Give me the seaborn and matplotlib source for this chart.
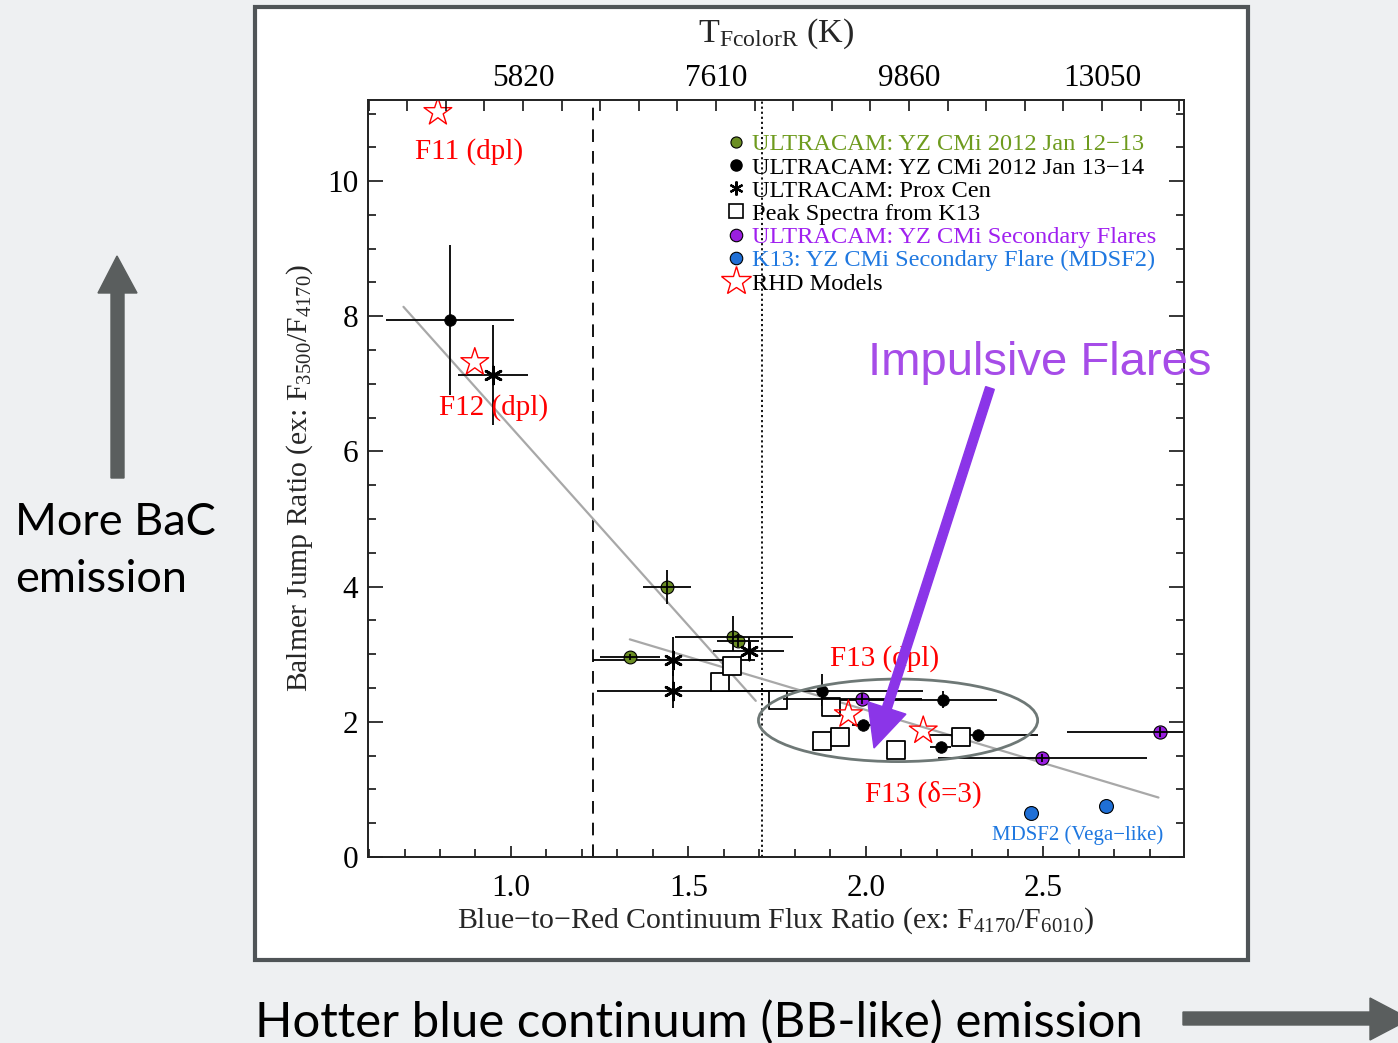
import numpy as np
import pandas as pd
import matplotlib
matplotlib.use("Agg")
import matplotlib.pyplot as plt
import seaborn as sns
from matplotlib.patches import Ellipse, Rectangle, Polygon, FancyArrow
from matplotlib.lines import Line2D
from matplotlib.transforms import IdentityTransform
from matplotlib.ticker import MultipleLocator, FixedLocator

# ---------------- data ----------------
# ULTRACAM: YZ CMi 2012 Jan 12-13 (green)
green_x = [1.439, 1.335, 1.625, 1.640]
green_y = [3.99, 2.96, 3.25, 3.20]
green_xlo = [1.372, 1.251, 1.462, 1.580]
green_xhi = [1.507, 1.420, 1.795, 1.700]
green_ylo = [3.75, 2.92, 3.05, 3.10]
green_yhi = [4.24, 3.00, 3.57, 3.30]

# ULTRACAM: YZ CMi 2012 Jan 13-14 (black)
black_x = [0.828, 1.877, 2.217, 1.993, 2.211, 2.315]
black_y = [7.94, 2.46, 2.33, 1.95, 1.63, 1.81]
black_xlo = [0.648, 1.560, 1.880, 1.960, 2.180, 2.181]
black_xhi = [1.008, 2.160, 2.370, 2.030, 2.240, 2.486]
black_ylo = [6.83, 2.24, 2.21, 1.88, 1.56, 1.76]
black_yhi = [9.05, 2.71, 2.45, 2.03, 1.70, 1.86]

# ULTRACAM: Prox Cen (asterisks)
prox_x = [0.949, 1.458, 1.458, 1.671]
prox_y = [7.13, 2.91, 2.46, 3.05]
prox_xlo = [0.850, 1.231, 1.242, 1.570]
prox_xhi = [1.047, 1.688, 1.750, 1.770]
prox_ylo = [6.39, 2.68, 2.20, 2.95]
prox_yhi = [7.87, 3.25, 2.75, 3.25]

# Peak spectra from K13 (open squares)
k13_x = [1.588, 1.624, 1.752, 1.901, 1.876, 1.926, 2.085, 2.268]
k13_y = [2.59, 2.82, 2.33, 2.22, 1.72, 1.78, 1.59, 1.78]

# ULTRACAM: YZ CMi secondary flares (purple)
sec_x = [1.989, 2.497, 2.828]
sec_y = [2.34, 1.46, 1.855]
sec_xlo = [1.767, 2.204, 2.567]
sec_xhi = [2.159, 2.792, 2.950]
sec_ylo = [2.26, 1.40, 1.78]
sec_yhi = [2.42, 1.52, 1.93]

# K13: YZ CMi secondary flare (MDSF2)
mdsf_x = [2.466, 2.677]
mdsf_y = [0.656, 0.755]

# RHD models (open red stars)
rhd_x = [0.794, 0.898, 1.951, 2.162]
rhd_y = [11.02, 7.32, 2.11, 1.87]
rhd_labels = ["F11 (dpl)", "F12 (dpl)", "F13 (dpl)", "F13 (δ=3)"]
rhd_label_x = [0.882, 0.952, 2.052, 2.162]
rhd_label_y = [10.44, 6.65, 2.93, 0.92]

# grey trend lines
fitA_x = [0.697, 1.690]
fitA_y = [8.14, 2.31]
fitB_x = [1.335, 2.825]
fitB_y = [3.22, 0.88]

# vertical reference lines
vline_dashed = 1.231
vline_dotted = 1.708

# impulsive-flare ellipse (center x, center y, width, height)
ell_cx, ell_cy, ell_w, ell_h = 2.091, 2.022, 0.787, 1.221

# axes ticks
x_major = [1.0, 1.5, 2.0, 2.5]
x_major_labels = ["1.0", "1.5", "2.0", "2.5"]
y_major = [0, 2, 4, 6, 8, 10]
y_major_labels = ["0", "2", "4", "6", "8", "10"]
top_pos = [1.034, 1.578, 2.122, 2.666]
top_labels = ["5820", "7610", "9860", "13050"]

legend_labels = [
    "ULTRACAM: YZ CMi 2012 Jan 12\u221213",
    "ULTRACAM: YZ CMi 2012 Jan 13\u221214",
    "ULTRACAM: Prox Cen",
    "Peak Spectra from K13",
    "ULTRACAM: YZ CMi Secondary Flares",
    "K13: YZ CMi Secondary Flare (MDSF2)",
    "RHD Models",
]

# ---------------- style ----------------
sns.set_theme(style="ticks")
plt.rcParams["font.family"] = ["Liberation Serif", "DejaVu Serif"]
plt.rcParams["mathtext.fontset"] = "custom"
plt.rcParams["mathtext.rm"] = "Liberation Serif"
plt.rcParams["mathtext.it"] = "Liberation Serif:italic"
plt.rcParams["mathtext.bf"] = "Liberation Serif:bold"

GREEN = "#6b8e23"
PURPLE = "#9a1fe0"
BLUE = "#1f6fd6"
GREEN_T = "#6e9b1e"
PURPLE_T = "#a020f0"
BLUE_T = "#1f78e0"

W, H = 1398, 1043
fig = plt.figure(figsize=(W / 100, H / 100), dpi=100, facecolor="#eef0f2")


def fx(px):
    return px / W


def fy(py):
    return 1 - py / H


panel = Rectangle((fx(255), fy(960)), fx(1248) - fx(255), fy(7) - fy(960),
                  transform=fig.transFigure, facecolor="white",
                  edgecolor="#4f5457", lw=3, zorder=-1)
fig.patches.append(panel)

ax = fig.add_axes([fx(368), fy(857), fx(1184) - fx(368), fy(100) - fy(857)])
ax.set_facecolor("white")


def errbars(x, y, xlo, xhi, ylo, yhi, z):
    x = np.asarray(x); y = np.asarray(y)
    ax.errorbar(x, y, xerr=[x - np.asarray(xlo), np.asarray(xhi) - x],
                yerr=[y - np.asarray(ylo), np.asarray(yhi) - y],
                fmt="none", ecolor="black", elinewidth=1.3, capsize=0, zorder=z)


# trend lines
ax.plot(fitA_x, fitA_y, color="#a8a8a8", lw=1.6, zorder=2)
ax.plot(fitB_x, fitB_y, color="#a8a8a8", lw=1.6, zorder=2)

# reference lines
ax.axvline(vline_dashed, color="black", lw=1.3, ls=(0, (7, 5)), zorder=1)
ax.axvline(vline_dotted, color="black", lw=1.3, ls=(0, (1.2, 1.6)), zorder=1)

# error bars
errbars(black_x, black_y, black_xlo, black_xhi, black_ylo, black_yhi, 3)
errbars(prox_x, prox_y, prox_xlo, prox_xhi, prox_ylo, prox_yhi, 3)
errbars(green_x, green_y, green_xlo, green_xhi, green_ylo, green_yhi, 6)
errbars(sec_x, sec_y, sec_xlo, sec_xhi, sec_ylo, sec_yhi, 6)

# points
sns.scatterplot(x=k13_x, y=k13_y, ax=ax, marker="s", s=150, facecolor="white",
                edgecolor="black", linewidth=1.3, zorder=4, legend=False)
sns.scatterplot(x=black_x, y=black_y, ax=ax, marker="o", s=70, color="black",
                edgecolor="black", linewidth=0.5, zorder=5, legend=False)
sns.scatterplot(x=green_x, y=green_y, ax=ax, marker="o", s=85, color=GREEN,
                edgecolor="black", linewidth=0.8, zorder=5, legend=False)
sns.scatterplot(x=sec_x, y=sec_y, ax=ax, marker="o", s=90, color=PURPLE,
                edgecolor="black", linewidth=0.8, zorder=5, legend=False)
sns.scatterplot(x=mdsf_x, y=mdsf_y, ax=ax, marker="o", s=100, color=BLUE,
                edgecolor="black", linewidth=0.8, zorder=5, legend=False)
ax.scatter(prox_x, prox_y, marker=(6, 2, 0), s=150, color="black",
           linewidths=2.0, zorder=5)
sns.scatterplot(x=rhd_x, y=rhd_y, ax=ax, marker="*", s=440, facecolor="none",
                edgecolor="red", linewidth=1.0, zorder=7, legend=False)

for lx, ly, lt in zip(rhd_label_x, rhd_label_y, rhd_labels):
    ax.text(lx, ly, lt, color="red", fontsize=21, ha="center", va="center", zorder=8)

ax.text(2.597, 0.33, "MDSF2 (Vega\u2212like)", color=BLUE_T, fontsize=15,
        ha="center", va="center", zorder=8)

ax.add_patch(Ellipse((ell_cx, ell_cy), ell_w, ell_h, facecolor="none",
                     edgecolor="#6e7876", lw=2.0, zorder=8))

# legend
handles = [
    Line2D([], [], ls="none", marker="o", ms=8, mfc=GREEN, mec="black", mew=0.8),
    Line2D([], [], ls="none", marker="o", ms=8, mfc="black", mec="black"),
    Line2D([], [], ls="none", marker=(6, 2, 0), ms=10, color="black", mew=1.6),
    Line2D([], [], ls="none", marker="s", ms=10, mfc="white", mec="black", mew=1.2),
    Line2D([], [], ls="none", marker="o", ms=9, mfc=PURPLE, mec="black", mew=0.8),
    Line2D([], [], ls="none", marker="o", ms=9, mfc=BLUE, mec="black", mew=0.8),
    Line2D([], [], ls="none", marker="*", ms=22, mfc="none", mec="red", mew=1.0),
]
leg = ax.legend(handles, legend_labels, loc="upper left",
                bbox_to_anchor=(0.438, 0.956), frameon=False, fontsize=17.6,
                handlelength=0.9, handletextpad=0.18, labelspacing=0.045,
                borderpad=0, borderaxespad=0)
for t, c in zip(leg.get_texts(), [GREEN_T, "black", "black", "black",
                                  PURPLE_T, BLUE_T, "black"]):
    t.set_color(c)
leg.set_zorder(9)

# axes / ticks
ax.set_xlim(0.597, 2.897)
ax.set_ylim(0, 11.2)
ax.xaxis.set_major_locator(FixedLocator(x_major))
ax.set_xticklabels(x_major_labels)
ax.xaxis.set_minor_locator(MultipleLocator(0.1))
ax.yaxis.set_major_locator(FixedLocator(y_major))
ax.set_yticklabels(y_major_labels)
ax.yaxis.set_minor_locator(MultipleLocator(0.5))
ax.tick_params(which="both", direction="in", top=False, right=True,
               labelsize=22.5, width=1.1, colors="black")
ax.tick_params(which="major", length=11, pad=7)
ax.tick_params(which="minor", length=6)
ax.tick_params(axis="x", which="major", length=8, pad=12)
for s in ax.spines.values():
    s.set_linewidth(1.2)
    s.set_color("black")

ax.set_xlabel(r"Blue$-$to$-$Red Continuum Flux Ratio (ex: F$_{4170}$/F$_{6010}$)",
              fontsize=21.5, labelpad=2)
ax.set_ylabel(r"Balmer Jump Ratio (ex: F$_{3500}$/F$_{4170}$)", fontsize=21.3,
              labelpad=9)

ax2 = ax.twiny()
ax2.set_xlim(ax.get_xlim())
ax2.xaxis.set_major_locator(FixedLocator(top_pos))
ax2.set_xticklabels(top_labels)
step = top_pos[1] - top_pos[0]
ax2.xaxis.set_minor_locator(MultipleLocator(step / 5, offset=top_pos[0]))
ax2.tick_params(which="both", direction="in", labelsize=22.5, width=1.1,
                length=8, pad=5, colors="black")
ax2.tick_params(which="minor", length=8)
ax2.set_xlabel(r"T$_{\mathrm{FcolorR}}$ (K)", fontsize=24.5, labelpad=16)
for s in ax2.spines.values():
    s.set_linewidth(1.2)

# ---------------- slide annotations ----------------
fig.text(fx(1040), fy(363), "Impulsive Flares", fontsize=34, color="#a64ce8",
         ha="center", va="center", family=["Liberation Sans", "DejaVu Sans"],
         zorder=20)

arr = FancyArrow(990, H - 388, 874 - 990, (H - 748) - (H - 388), width=9,
                 head_width=40, head_length=42, length_includes_head=True,
                 transform=IdentityTransform(), color="#8b35e8", zorder=21)
fig.add_artist(arr)

slide_font = ["Lato", "DejaVu Sans"]
fig.text(fx(15), fy(535), "More BaC", fontsize=32.5, color="black", ha="left",
         va="baseline", family=slide_font)
fig.text(fx(15), fy(592), "emission", fontsize=32.5, color="black", ha="left",
         va="baseline", family=slide_font)
fig.text(fx(255), fy(1037), "Hotter blue continuum (BB-like) emission",
         fontsize=35.4, color="black", ha="left", va="baseline", family=slide_font)

ARROW_C = "#5a5e5e"
up = Polygon([(111, H - 478), (124, H - 478), (124, H - 293), (137, H - 293),
              (117, H - 256), (98, H - 293), (111, H - 293)],
             closed=True, transform=IdentityTransform(), color=ARROW_C)
fig.add_artist(up)
right = Polygon([(1183, H - 1012), (1370, H - 1012), (1370, H - 998),
                 (1410, H - 1019), (1370, H - 1040), (1370, H - 1025),
                 (1183, H - 1025)],
                closed=True, transform=IdentityTransform(), color=ARROW_C)
fig.add_artist(right)

fig.savefig("out.png", dpi=100, facecolor=fig.get_facecolor())
